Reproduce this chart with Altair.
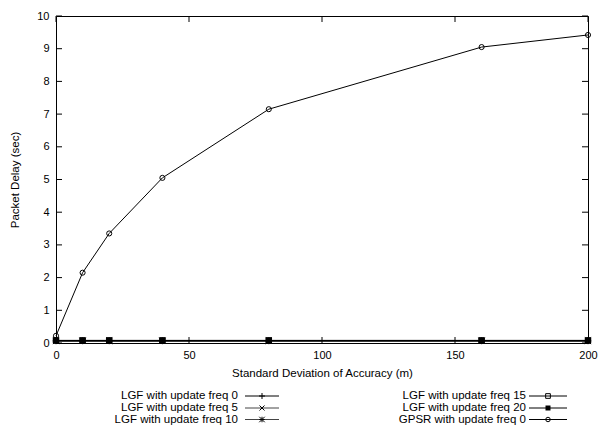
import altair as alt
import pandas as pd

# ---- data ----
x_vals = [0, 10, 20, 40, 80, 160, 200]
series_names = [
    "LGF with update freq 0",
    "LGF with update freq 5",
    "LGF with update freq 10",
    "LGF with update freq 15",
    "LGF with update freq 20",
    "GPSR with update freq 0",
]
lgf0 = [0.06, 0.06, 0.06, 0.06, 0.06, 0.06, 0.06]
lgf5 = [0.07, 0.07, 0.07, 0.07, 0.07, 0.07, 0.07]
lgf10 = [0.07, 0.07, 0.07, 0.07, 0.07, 0.07, 0.07]
lgf15 = [0.08, 0.08, 0.08, 0.08, 0.08, 0.08, 0.08]
lgf20 = [0.07, 0.07, 0.07, 0.07, 0.07, 0.07, 0.07]
gpsr0 = [0.22, 2.15, 3.35, 5.05, 7.15, 9.05, 9.42]
series_values = [lgf0, lgf5, lgf10, lgf15, lgf20, gpsr0]

x_ticks = [0, 50, 100, 150, 200]
y_ticks = [0, 1, 2, 3, 4, 5, 6, 7, 8, 9, 10]

# ---- style ----
FONT = "Liberation Sans"
W, H = 532, 327
PLUS = "M-1,0L1,0M0,-1L0,1"
XMARK = "M-1,-1L1,1M-1,1L1,-1"
STAR = "M-1,0L1,0M0,-1L0,1M-1,-1L1,1M-1,1L1,-1"
shapes = [PLUS, XMARK, STAR, "square", "square", "circle"]
filled = [False, False, False, False, True, False]
plot_sizes = [40, 30, 40, 30, 36, 26]
leg_sizes = [36, 25, 30, 22, 25, 20]
leg_line_colors = ["black", "#444444", "#444444", "black", "black", "black"]

xs = alt.Scale(domain=[0, 200], nice=False, zero=False)
ys = alt.Scale(domain=[0, 10], nice=False, zero=False)

x_axis = alt.Axis(values=x_ticks, ticks=False, domain=False, grid=False,
                  labelFont=FONT, labelFontSize=11, labelColor="black",
                  labelPadding=6, labelFlush=False,
                  title="Standard Deviation of Accuracy (m)",
                  titleFont=FONT, titleFontSize=11.5, titleFontWeight="normal",
                  titleColor="black", titlePadding=7)
y_axis = alt.Axis(values=y_ticks, ticks=False, domain=False, grid=False,
                  labelFont=FONT, labelFontSize=11, labelColor="black",
                  labelPadding=7, labelFlush=False, title="Packet Delay (sec)",
                  titleFont=FONT, titleFontSize=11.5, titleFontWeight="normal",
                  titleColor="black", titlePadding=16)

X = lambda f: alt.X(f, scale=xs, axis=x_axis)
Y = lambda f: alt.Y(f, scale=ys, axis=y_axis)

layers = []
for i, (name, vals) in enumerate(zip(series_names, series_values)):
    df = pd.DataFrame({"x": x_vals, "y": vals})
    line = alt.Chart(df).mark_line(color="black", strokeWidth=1).encode(
        x=X("x:Q"), y=Y("y:Q"))
    pts = alt.Chart(df).mark_point(shape=shapes[i], filled=filled[i],
                                   color="black", size=plot_sizes[i],
                                   strokeWidth=1, opacity=1).encode(
        x=X("x:Q"), y=Y("y:Q"))
    layers += [line, pts]

# mirror ticks (inward)
xt = pd.DataFrame({"x": x_ticks})
yt = pd.DataFrame({"y": y_ticks})
tick_len = 6
layers.append(alt.Chart(xt).mark_rule(color="black", strokeWidth=1).encode(
    x=X("x:Q"), y=alt.value(H), y2=alt.value(H - tick_len)))
layers.append(alt.Chart(xt).mark_rule(color="black", strokeWidth=1).encode(
    x=X("x:Q"), y=alt.value(0), y2=alt.value(tick_len)))
layers.append(alt.Chart(yt).mark_rule(color="black", strokeWidth=1).encode(
    y=Y("y:Q"), x=alt.value(0), x2=alt.value(tick_len)))
layers.append(alt.Chart(yt).mark_rule(color="black", strokeWidth=1).encode(
    y=Y("y:Q"), x=alt.value(W), x2=alt.value(W - tick_len)))

# legend (gnuplot style: label, then line sample with marker)
col_text = [182, 470]
col_line = [(189, 223), (473, 511)]
col_mark = [206, 492]
rows = [380, 392, 403.5]
one = pd.DataFrame({"a": [0]})
for i, name in enumerate(series_names):
    c, r = i // 3, rows[i % 3]
    layers.append(alt.Chart(one).mark_text(align="right", baseline="middle",
                                           font=FONT, fontSize=11.5, color="black").encode(
        x=alt.value(col_text[c]), y=alt.value(r), text=alt.value(name)))
    layers.append(alt.Chart(one).mark_rule(color=leg_line_colors[i], strokeWidth=1).encode(
        x=alt.value(col_line[c][0]), x2=alt.value(col_line[c][1]), y=alt.value(r)))
    layers.append(alt.Chart(one).mark_point(shape=shapes[i], filled=filled[i],
                                            color="black", size=leg_sizes[i],
                                            strokeWidth=1, opacity=1).encode(
        x=alt.value(col_mark[c]), y=alt.value(r)))

chart = alt.layer(*layers).properties(
    width=W, height=H,
    autosize=alt.AutoSizeParams(type="none"),
    padding={"left": 56, "top": 16, "right": 11, "bottom": 83},
    background="white",
).configure_view(stroke="black", strokeWidth=1)

chart.save("out.html", embed_options={"renderer": "svg", "actions": False})
